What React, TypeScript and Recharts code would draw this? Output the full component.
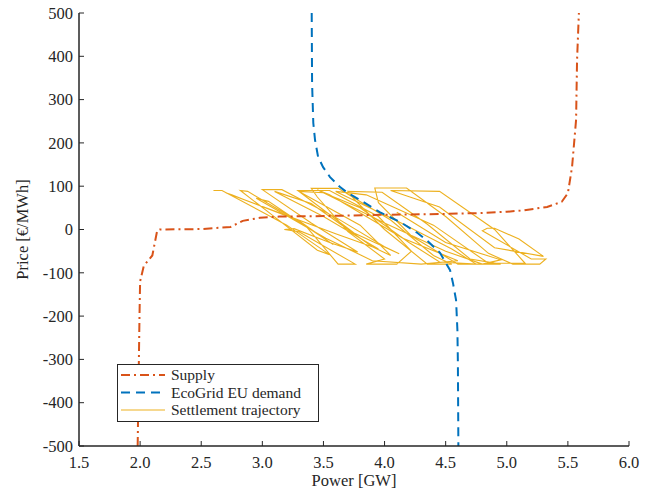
import React from 'react';
import { ComposedChart, Line, XAxis, YAxis, Legend, Label } from 'recharts';

const xTicks = [1.5, 2.0, 2.5, 3.0, 3.5, 4.0, 4.5, 5.0, 5.5, 6.0];
const yTicks = [-500, -400, -300, -200, -100, 0, 100, 200, 300, 400, 500];

const supplyPower = [1.98, 1.985, 1.99, 1.995, 2.0, 2.03, 2.1, 2.14, 2.16, 2.5, 2.74, 2.84, 2.98, 3.14, 3.5, 4.0, 4.5, 4.78, 5.0, 5.13, 5.33, 5.45, 5.5, 5.534, 5.567, 5.575, 5.59];
const supplyPrice = [-500, -400, -300, -200, -120, -84, -60, -2, 0, 1, 6, 20, 27, 30, 31, 34, 36, 38, 41, 44, 52, 64, 84, 144, 253, 391, 500];

const demandPower = [3.404, 3.407, 3.417, 3.431, 3.456, 3.497, 3.554, 3.636, 3.701, 3.8, 3.96, 4.13, 4.27, 4.35, 4.454, 4.536, 4.56, 4.585, 4.596, 4.6, 4.604];
const demandPrice = [500, 338, 246, 207, 168, 144, 121, 98, 84, 68, 40, 17, -8, -26, -54, -94, -124, -163, -232, -308, -500];

const trajPower = [2.6, 2.67, 3.2, 3.55, 3.45, 3.05, 2.82, 2.88, 3.35, 3.62, 3.76, 3.3, 3.18, 3.26, 3.55, 3.78, 3.4, 3.0, 3.16, 3.6, 4.0, 4.12, 3.75, 3.29, 3.55, 3.95, 4.22, 4.1, 3.85, 4.0, 3.7, 3.45, 3.4, 3.62, 4.05, 4.4, 4.55, 4.35, 4.0, 3.75, 3.7, 3.98, 4.35, 4.7, 4.95, 4.6, 4.22, 3.95, 3.92, 4.18, 4.5, 4.85, 5.05, 5.27, 5.32, 5.2, 4.8, 4.84, 4.9, 5.1, 5.3, 4.9, 4.45, 4.05, 4.45, 4.9, 5.15, 4.85, 4.4, 3.85, 3.6, 4.1, 4.55, 4.75, 4.45, 4.2, 3.8, 3.5, 3.3, 3.8, 4.05, 3.9, 3.4, 3.1, 3.5, 3.95, 3.6, 2.7, 2.75, 3.3, 3.58, 3.05, 2.95, 3.52, 3.9, 4.3, 4.6, 4.15, 3.55, 3.45, 4.0, 4.5, 4.8, 4.95, 4.5, 4.1];
const trajPrice = [90, 90, 10, -58, -48, 40, 90, 88, 10, -80, -80, -5, 0, 2, -30, -52, 15, 92, 92, 28, -40, -56, -8, 90, 90, 30, -50, -80, -80, -68, -5, 75, 95, 95, 22, -60, -80, -80, 0, 70, 88, 86, 12, -68, -80, -80, -15, 62, 96, 96, 30, -55, -80, -80, -68, -68, -3, 3, 3, -22, -62, -42, 52, 90, 88, 0, -78, -78, 10, 80, 88, 20, -45, -80, -75, -30, 50, 85, 88, 10, -60, -40, 60, 88, 30, -45, -10, 85, 80, 20, -35, 65, 72, -20, -72, -80, -72, -20, 80, 92, 15, -50, -80, -70, -30, 40];

const seriesNames = ['Supply', 'EcoGrid EU demand', 'Settlement trajectory'];
const seriesColors = ['#D95319', '#0072BD', '#EDB120'];
const seriesDash = ['9 4 2 4', '9 6', undefined];
const seriesWidth = [2, 2, 1.1];

const zip = (xs: number[], ys: number[]) => xs.map((x, i) => ({ power: x, price: ys[i] }));
const supplyData = zip(supplyPower, supplyPrice);
const demandData = zip(demandPower, demandPrice);
const trajData = zip(trajPower, trajPrice);

const FONT = '"Liberation Serif", "Times New Roman", serif';
const TXT = '#262626';
const FS = 16.5;

const XTickBottom = (props: any) => {
  const { x, y, payload } = props;
  return (
    <g>
      <line x1={x} x2={x} y1={y} y2={y - 5} stroke={TXT} strokeWidth={1} />
      <text x={x} y={y + 22} textAnchor="middle" fontFamily={FONT} fontSize={FS} fill={TXT}>
        {Number(payload.value).toFixed(1)}
      </text>
    </g>
  );
};
const XTickTop = (props: any) => {
  const { x, y } = props;
  return <line x1={x} x2={x} y1={y} y2={y + 5} stroke={TXT} strokeWidth={1} />;
};
const YTickLeft = (props: any) => {
  const { x, y, payload } = props;
  return (
    <g>
      <line x1={x} x2={x + 5} y1={y} y2={y} stroke={TXT} strokeWidth={1} />
      <text x={x - 6} y={y} dy="0.35em" textAnchor="end" fontFamily={FONT} fontSize={FS} fill={TXT}>
        {payload.value}
      </text>
    </g>
  );
};
const YTickRight = (props: any) => {
  const { x, y } = props;
  return <line x1={x} x2={x - 5} y1={y} y2={y} stroke={TXT} strokeWidth={1} />;
};

const LegendBox = () => (
  <svg width={202} height={58} style={{ display: 'block' }}>
    <rect x={0.5} y={0.5} width={201} height={57} fill="#fff" stroke={TXT} strokeWidth={1} />
    {seriesNames.map((n, i) => {
      const cy = 11 + i * 17.5;
      return (
        <g key={n}>
          <line x1={4} x2={48} y1={cy} y2={cy} stroke={seriesColors[i]} strokeWidth={seriesWidth[i]} strokeDasharray={seriesDash[i]} />
          <text x={54} y={cy} dy="0.33em" fontFamily={FONT} fontSize={15.5} fill={TXT}>{n}</text>
        </g>
      );
    })}
  </svg>
);

export default function App() {
  return (
    <div style={{ position: 'fixed', left: 0, top: 0, width: 653, height: 492, background: '#fff' }}>
      <ComposedChart width={653} height={492} margin={{ top: 13, right: 24, bottom: 0, left: 0 }}>
        <XAxis
          xAxisId="b"
          dataKey="power"
          type="number"
          domain={[1.5, 6]}
          ticks={xTicks}
          allowDataOverflow
          height={46}
          tickLine={false}
          tickSize={0}
          tickMargin={0}
          tick={<XTickBottom />}
          axisLine={{ stroke: TXT, strokeWidth: 1.5 }}
          interval={0}
        >
          <Label
            content={(p: any) => {
              const vb = p.viewBox;
              return (
                <text x={vb.x + vb.width / 2} y={486} textAnchor="middle" fontFamily={FONT} fontSize={FS} fill={TXT}>
                  Power [GW]
                </text>
              );
            }}
          />
        </XAxis>
        <XAxis
          xAxisId="t"
          orientation="top"
          dataKey="power"
          type="number"
          domain={[1.5, 6]}
          ticks={xTicks}
          allowDataOverflow
          height={0}
          tickLine={false}
          tickSize={0}
          tickMargin={0}
          tick={<XTickTop />}
          axisLine={{ stroke: TXT, strokeWidth: 1.5 }}
          interval={0}
        />
        <YAxis
          yAxisId="l"
          dataKey="price"
          type="number"
          domain={[-500, 500]}
          ticks={yTicks}
          allowDataOverflow
          width={79}
          tickLine={false}
          tickSize={0}
          tickMargin={0}
          tick={<YTickLeft />}
          axisLine={{ stroke: TXT, strokeWidth: 1.5 }}
          interval={0}
        >
          <Label
            content={(p: any) => {
              const vb = p.viewBox;
              const cx = 22;
              const cy = vb.y + vb.height / 2;
              return (
                <text x={cx} y={cy} transform={`rotate(-90 ${cx} ${cy})`} dy="0.35em" textAnchor="middle" fontFamily={FONT} fontSize={FS} fill={TXT}>
                  Price [€/MWh]
                </text>
              );
            }}
          />
        </YAxis>
        <YAxis
          yAxisId="r"
          orientation="right"
          dataKey="price"
          type="number"
          domain={[-500, 500]}
          ticks={yTicks}
          allowDataOverflow
          width={0}
          tickLine={false}
          tickSize={0}
          tickMargin={0}
          tick={<YTickRight />}
          axisLine={{ stroke: TXT, strokeWidth: 1.5 }}
          interval={0}
        />
        <Line
          xAxisId="b"
          yAxisId="l"
          data={trajData}
          dataKey="price"
          name={seriesNames[2]}
          type="linear"
          stroke={seriesColors[2]}
          strokeWidth={seriesWidth[2]}
          dot={false}
          activeDot={false}
          isAnimationActive={false}
        />
        <Line
          xAxisId="b"
          yAxisId="l"
          data={supplyData}
          dataKey="price"
          name={seriesNames[0]}
          type="linear"
          stroke={seriesColors[0]}
          strokeWidth={seriesWidth[0]}
          strokeDasharray={seriesDash[0]}
          dot={false}
          activeDot={false}
          isAnimationActive={false}
        />
        <Line
          xAxisId="b"
          yAxisId="l"
          data={demandData}
          dataKey="price"
          name={seriesNames[1]}
          type="linear"
          stroke={seriesColors[1]}
          strokeWidth={seriesWidth[1]}
          strokeDasharray={seriesDash[1]}
          dot={false}
          activeDot={false}
          isAnimationActive={false}
        />
        <Legend
          layout="vertical"
          align="center"
          verticalAlign="middle"
          wrapperStyle={{ position: 'absolute', left: 117, top: 364, width: 202, height: 58 }}
          content={() => <LegendBox />}
        />
      </ComposedChart>
    </div>
  );
}
